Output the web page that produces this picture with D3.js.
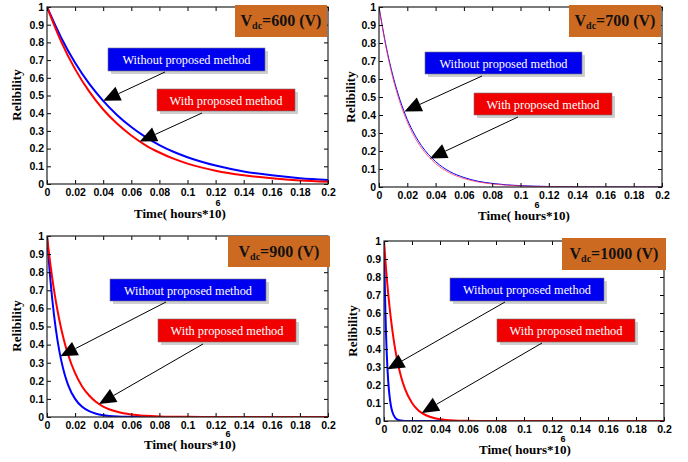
<!DOCTYPE html>
<html><head><meta charset="utf-8">
<script src="https://cdn.jsdelivr.net/npm/d3@7"></script>
<style>body{margin:0;background:#fff}svg{display:block}</style>
</head><body>
<svg id="c" width="688" height="462"></svg>
<script>
// ---------- data ----------
const xTicks = [0,0.02,0.04,0.06,0.08,0.1,0.12,0.14,0.16,0.18,0.2];
const xTickLabels = ["0","0.02","0.04","0.06","0.08","0.1","0.12","0.14","0.16","0.18","0.2"];
const yTicks = [0,0.1,0.2,0.3,0.4,0.5,0.6,0.7,0.8,0.9,1];
const yTickLabels = ["0","0.1","0.2","0.3","0.4","0.5","0.6","0.7","0.8","0.9","1"];
const voltages = ["600","700","900","1000"];
const seriesNames = ["Without proposed method","With proposed method"];

// Vdc = 600 V
const t600 = [0,0.01,0.02,0.03,0.04,0.05,0.06,0.07,0.08,0.09,0.1,0.12,0.14,0.16,0.18,0.2];
const without600 = [1,0.828,0.685,0.567,0.470,0.389,0.322,0.266,0.220,0.182,0.151,0.104,0.071,0.049,0.033,0.023];
const with600 = [1,0.806,0.649,0.523,0.421,0.340,0.274,0.220,0.178,0.143,0.115,0.075,0.049,0.032,0.020,0.013];
// Vdc = 700 V
const t700 = [0,0.005,0.01,0.015,0.02,0.025,0.03,0.04,0.05,0.06,0.07,0.08,0.09,0.1,0.12,0.14,0.16,0.18,0.2];
const without700 = [1,0.783,0.613,0.480,0.375,0.294,0.230,0.141,0.086,0.053,0.032,0.020,0.012,0.0074,0.0028,0.001,0.0004,0.0001,0.0001];
const with700 = [1,0.775,0.600,0.465,0.361,0.279,0.217,0.130,0.078,0.047,0.028,0.017,0.010,0.006,0.0022,0.0008,0.0003,0.0001,0];
// Vdc = 900 V
const t900 = [0,0.0025,0.005,0.0075,0.01,0.0125,0.015,0.02,0.025,0.03,0.035,0.04,0.05,0.06,0.07,0.08,0.1,0.12,0.14,0.16,0.18,0.2];
const without900 = [1,0.750,0.563,0.422,0.317,0.238,0.178,0.100,0.056,0.032,0.018,0.010,0.003,0.001,0.0003,0.0001,0,0,0,0,0,0];
const with900 = [1,0.837,0.701,0.587,0.492,0.412,0.345,0.242,0.169,0.119,0.083,0.058,0.029,0.014,0.007,0.0034,0.0008,0.0002,0,0,0,0];
// Vdc = 1000 V
const t1000 = [0,0.0005,0.001,0.0015,0.002,0.0025,0.003,0.004,0.005,0.006,0.008,0.01,0.012,0.015,0.02,0.025,0.03,0.035,0.04,0.05,0.06,0.07,0.08,0.1,0.12,0.14,0.16,0.18,0.2];
const without1000 = [1,0.779,0.607,0.472,0.368,0.287,0.223,0.135,0.082,0.050,0.018,0.0067,0.0025,0.0006,0.00005,0,0,0,0,0,0,0,0,0,0,0,0,0,0];
const with1000 = [1,0.944,0.891,0.841,0.794,0.750,0.708,0.631,0.563,0.502,0.398,0.317,0.252,0.178,0.100,0.056,0.032,0.018,0.010,0.003,0.001,0.0003,0.0001,0,0,0,0,0,0];

const panelData = [
  {t:t600, a:without600, b:with600},
  {t:t700, a:without700, b:with700},
  {t:t900, a:without900, b:with900},
  {t:t1000, a:without1000, b:with1000}
];

// ---------- layout (pixels) ----------
const layout = [
  {x0:47,x1:328,yt:7,yb:184, lw:2, vbox:[235,5,92,32], bbox:[108,48,157,23], rbox:[157,89,138,22],
   btail:[165,72], rtail:[202,113], btip:[0.040,0.47], rtip:[0.066,0.24],
   ytitle:[18,95], xtitle:[180,215], sup:[218,204]},
  {x0:379,x1:662,yt:7,yb:187, lw:1, vbox:[569,5,92,32], bbox:[425,52,157,22], rbox:[474,93,138,22],
   btail:[482,76], rtail:[518,117], btip:[0.018,0.42], rtip:[0.036,0.159],
   ytitle:[352,97], xtitle:[524,217], sup:[537,206]},
  {x0:47,x1:328,yt:236,yb:417, lw:2, vbox:[228,236,102,31], bbox:[110,279,156,22], rbox:[158,319,138,23],
   btail:[166,302], rtail:[203,344], btip:[0.0095,0.335], rtip:[0.037,0.072],
   ytitle:[18,326], xtitle:[190,446], sup:[228,435]},
  {x0:384,x1:664,yt:241,yb:421, lw:2, vbox:[562,238,104,32], bbox:[450,278,154,23], rbox:[497,319,138,23],
   btail:[505,302], rtail:[542,343], btip:[0.0024,0.287], rtip:[0.027,0.045],
   ytitle:[354,331], xtitle:[525,451], sup:[563,440]}
];

const svg = d3.select("#c");
const sans = "'Liberation Sans', Arial, sans-serif";
const serif = "'Liberation Serif', 'Times New Roman', serif";

layout.forEach((L, i) => {
  const d = panelData[i];
  const x = d3.scaleLinear().domain([0,0.2]).range([L.x0, L.x1]);
  const y = d3.scaleLinear().domain([0,1]).range([L.yb, L.yt]);
  const g = svg.append("g");

  const clipId = "clip" + i;
  svg.append("clipPath").attr("id", clipId).append("rect")
    .attr("x", L.x0).attr("y", L.yt - 1).attr("width", L.x1 - L.x0).attr("height", L.yb - L.yt + 1);

  // curves
  const line = d3.line().x((v, k) => x(d.t[k])).y(v => y(v)).curve(d3.curveMonotoneX);
  g.append("path").attr("d", line(d.a)).attr("fill","none").attr("stroke","#0000ff")
    .attr("stroke-width", L.lw).attr("clip-path", `url(#${clipId})`);
  g.append("path").attr("d", line(d.b)).attr("fill","none").attr("stroke", i===1 ? "#ff3355" : "#ff0000")
    .attr("stroke-width", L.lw).attr("stroke-opacity", i===1 ? 0.75 : 1).attr("clip-path", `url(#${clipId})`);

  // axes
  const ax = g.append("g").attr("transform", `translate(0,${L.yb})`)
    .call(d3.axisBottom(x).tickValues(xTicks).tickFormat((v,k)=>xTickLabels[k]).tickSize(-4).tickPadding(5));
  const ay = g.append("g").attr("transform", `translate(${L.x0},0)`)
    .call(d3.axisLeft(y).tickValues(yTicks).tickFormat((v,k)=>yTickLabels[k]).tickSize(-4).tickPadding(3));
  const at = g.append("g").attr("transform", `translate(0,${L.yt})`)
    .call(d3.axisTop(x).tickValues(xTicks).tickFormat("").tickSize(-4));
  const ar = g.append("g").attr("transform", `translate(${L.x1},0)`)
    .call(d3.axisRight(y).tickValues(yTicks).tickFormat("").tickSize(-4));
  [ax, ay, at, ar].forEach(a => {
    a.select(".domain").remove();
    a.selectAll("line").attr("stroke","#000");
    a.selectAll("text").attr("font-family", sans).attr("font-weight","bold").attr("font-size", 10.5).attr("fill","#000");
  });
  g.append("rect").attr("x", L.x0).attr("y", L.yt).attr("width", L.x1 - L.x0).attr("height", L.yb - L.yt)
    .attr("fill","none").attr("stroke","#222").attr("stroke-width", 1.2);

  // axis titles
  g.append("text").attr("transform", `translate(${L.ytitle[0]},${L.ytitle[1]}) rotate(-90)`)
    .attr("text-anchor","middle").attr("dominant-baseline","middle")
    .attr("font-family", serif).attr("font-weight","bold").attr("font-size", 13).text("Relibility");
  g.append("text").attr("x", L.xtitle[0]).attr("y", L.xtitle[1]).attr("text-anchor","middle")
    .attr("dominant-baseline","middle").attr("font-family", serif).attr("font-weight","bold")
    .attr("font-size", 13).text("Time( hours*10)");
  g.append("text").attr("x", L.sup[0]).attr("y", L.sup[1]).attr("text-anchor","middle")
    .attr("dominant-baseline","middle").attr("font-family", sans).attr("font-weight","bold")
    .attr("font-size", 9).text("6");

  // Vdc box
  const vb = L.vbox;
  g.append("rect").attr("x", vb[0]).attr("y", vb[1]).attr("width", vb[2]).attr("height", vb[3]).attr("fill","#cd6a21");
  const vt = g.append("text").attr("x", vb[0] + vb[2]/2).attr("y", vb[1] + vb[3]/2 + 5)
    .attr("text-anchor","middle").attr("font-family", serif).attr("font-weight","bold")
    .attr("font-size", 16).attr("fill","#111");
  vt.append("tspan").text("V");
  vt.append("tspan").attr("font-size", 10).attr("dy", 3).text("dc");
  vt.append("tspan").attr("dy", -3).text("=" + voltages[i] + " (V)");

  // label boxes
  const box = (b, fill, txt, tw) => {
    g.append("rect").attr("x", b[0] + 3).attr("y", b[1] + 3).attr("width", b[2]).attr("height", b[3]).attr("fill","#cfcfcf");
    g.append("rect").attr("x", b[0]).attr("y", b[1]).attr("width", b[2]).attr("height", b[3]).attr("fill", fill)
      .attr("stroke","#777").attr("stroke-width",0.6);
    g.append("text").attr("x", b[0] + b[2]/2).attr("y", b[1] + b[3]/2 + 4.5).attr("text-anchor","middle")
      .attr("font-family", serif).attr("font-size", 13).attr("fill","#fff")
      .attr("textLength", tw).attr("lengthAdjust","spacingAndGlyphs").text(txt);
  };
  box(L.bbox, "#0000f0", seriesNames[0], 128);
  box(L.rbox, "#f00000", seriesNames[1], 113);

  // arrows
  const arrow = (tail, tipData) => {
    const tx = x(tipData[0]), ty = y(tipData[1]);
    const dx = tail[0] - tx, dy = tail[1] - ty, len = Math.hypot(dx, dy);
    const ux = dx/len, uy = dy/len, hl = 17, hw = 7.5;
    const bx = tx + ux*hl, by = ty + uy*hl;
    g.append("line").attr("x1", tail[0]).attr("y1", tail[1]).attr("x2", bx).attr("y2", by)
      .attr("stroke","#000").attr("stroke-width",1);
    g.append("path").attr("d", `M${tx},${ty}L${bx - uy*hw},${by + ux*hw}L${bx + uy*hw},${by - ux*hw}Z`).attr("fill","#000");
  };
  arrow(L.btail, L.btip);
  arrow(L.rtail, L.rtip);
});
</script>
</body></html>
